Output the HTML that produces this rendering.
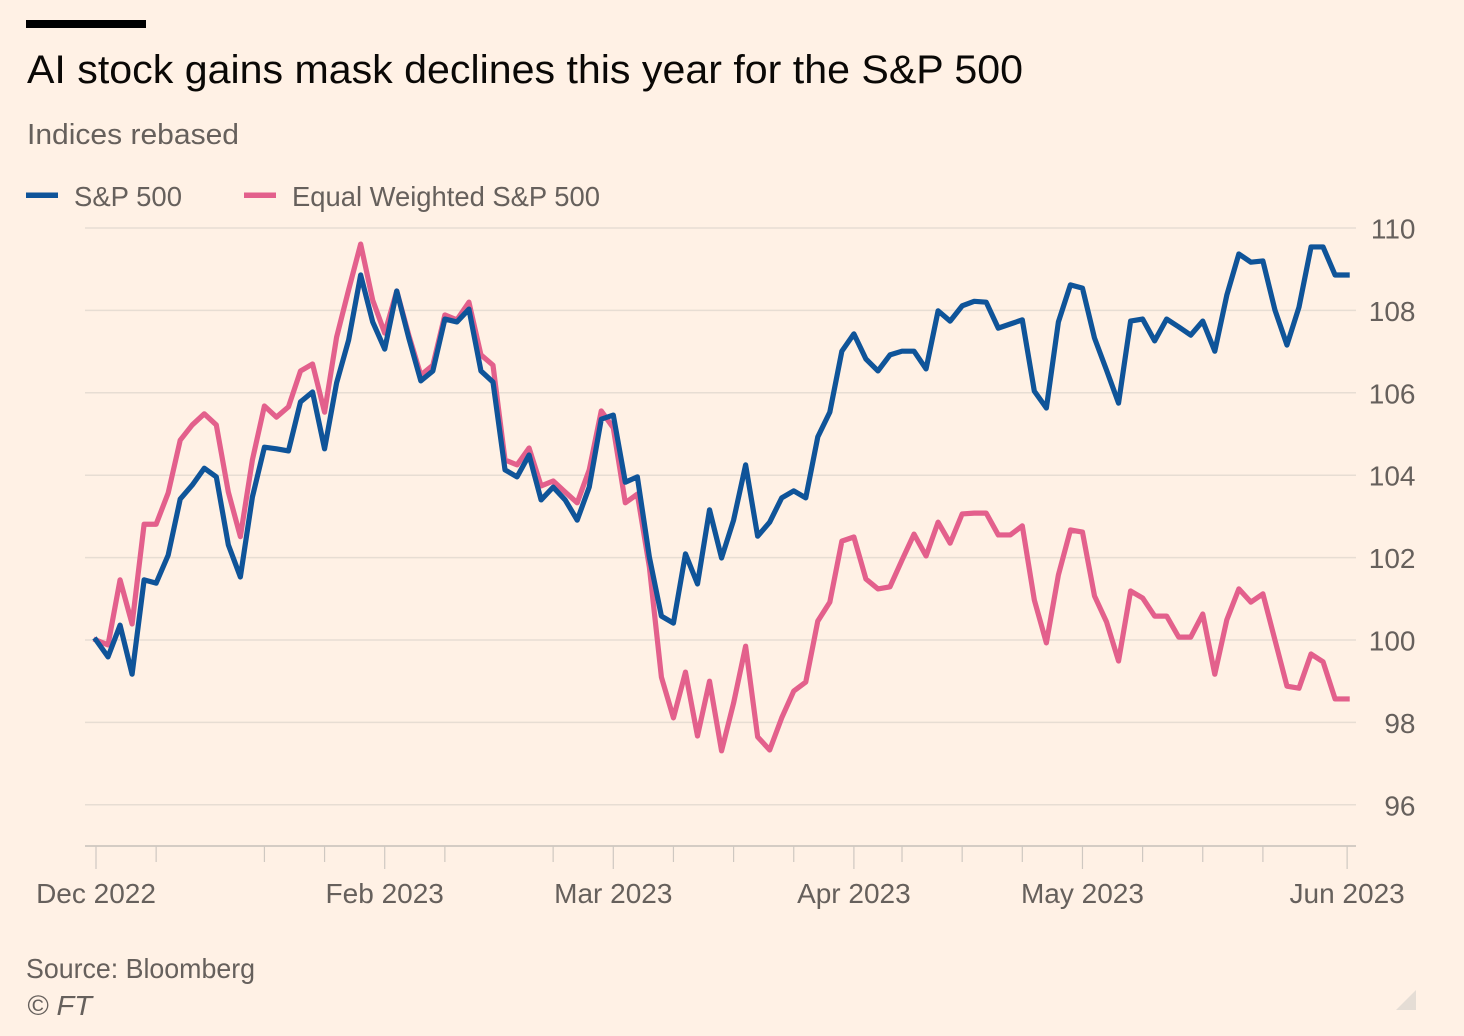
<!DOCTYPE html>
<html lang="en">
<head>
<meta charset="utf-8">
<title>AI stock gains mask declines this year for the S&amp;P 500</title>
<style>
html,body{margin:0;padding:0;background:#fff1e5;}
body{width:1464px;height:1036px;overflow:hidden;}
svg{display:block;font-family:"Liberation Sans",sans-serif;}
.grey{fill:#66605c;}
.tick-text{font-size:28px;fill:#66605c;}
</style>
</head>
<body>
<svg id="chart" width="1464" height="1036" viewBox="0 0 1464 1036" xmlns="http://www.w3.org/2000/svg">
  <rect x="0" y="0" width="1464" height="1036" fill="#fff1e5"/>
  <rect x="26" y="20" width="120" height="8" fill="#000"/>
  <text x="27" y="83" font-size="40" fill="#0a0806" textLength="996" lengthAdjust="spacingAndGlyphs">AI stock gains mask declines this year for the S&amp;P 500</text>
  <text class="grey" x="27" y="144" font-size="29" textLength="212" lengthAdjust="spacingAndGlyphs">Indices rebased</text>
  <rect x="26" y="192.500" width="32" height="5.500" fill="#0f5499"/>
  <text class="grey" x="74" y="206" font-size="28" textLength="108" lengthAdjust="spacingAndGlyphs">S&amp;P 500</text>
  <rect x="244" y="192.500" width="32" height="5.500" fill="#e3608c"/>
  <text class="grey" x="292" y="206" font-size="28" textLength="308" lengthAdjust="spacingAndGlyphs">Equal Weighted S&amp;P 500</text>
  <g id="grid"></g>
  <g id="xaxis"></g>
  <g id="yaxis"></g>
  <g id="series"></g>
  <text class="grey" x="26" y="978" font-size="28" textLength="229" lengthAdjust="spacingAndGlyphs">Source: Bloomberg</text>
  <text class="grey" x="27" y="1015" font-size="28" font-style="italic" textLength="65" lengthAdjust="spacingAndGlyphs">© FT</text>
  <polygon points="1396,1010 1416,1010 1416,990" fill="#e5ddd5"/>
</svg>
<script>
var yTickValues = [96, 98, 100, 102, 104, 106, 108, 110];
var monthLabels = ["Dec 2022", "Feb 2023", "Mar 2023", "Apr 2023", "May 2023", "Jun 2023"];
var monthDayIndex = [0, 24, 43, 63, 82, 104];
var minorDayIndex = [5, 14, 19, 29, 38, 48, 53, 58, 67, 72, 77, 87, 92, 97];
var sp500 = [100.00,99.59,100.36,99.17,101.46,101.38,102.06,103.42,103.76,104.17,103.96,102.31,101.53,103.47,104.68,104.64,104.59,105.78,106.02,104.64,106.24,107.28,108.86,107.72,107.06,108.47,107.33,106.29,106.53,107.79,107.72,108.03,106.53,106.26,104.13,103.96,104.49,103.40,103.71,103.40,102.91,103.71,105.36,105.46,103.83,103.96,102.01,100.58,100.41,102.09,101.36,103.16,101.99,102.91,104.25,102.52,102.86,103.45,103.62,103.45,104.93,105.53,107.01,107.43,106.82,106.53,106.92,107.01,107.01,106.58,107.99,107.74,108.11,108.22,108.20,107.57,107.67,107.77,106.04,105.63,107.72,108.62,108.54,107.33,106.55,105.75,107.74,107.79,107.26,107.79,107.60,107.40,107.74,107.01,108.37,109.37,109.17,109.20,108.01,107.16,108.08,109.54,109.54,108.86,108.86];
var equalWeighted = [100.00,99.88,101.46,100.39,102.81,102.81,103.57,104.85,105.22,105.49,105.22,103.59,102.51,104.37,105.68,105.41,105.66,106.53,106.70,105.53,107.35,108.50,109.61,108.25,107.45,108.47,107.40,106.43,106.67,107.89,107.77,108.20,106.92,106.67,104.37,104.25,104.66,103.74,103.86,103.59,103.33,104.13,105.56,105.15,103.33,103.54,101.77,99.10,98.11,99.22,97.67,99.00,97.31,98.47,99.85,97.65,97.33,98.11,98.76,98.98,100.46,100.92,102.40,102.50,101.48,101.24,101.29,101.94,102.57,102.04,102.86,102.35,103.06,103.08,103.08,102.55,102.55,102.77,100.97,99.93,101.58,102.67,102.62,101.07,100.44,99.49,101.19,101.02,100.58,100.58,100.07,100.07,100.63,99.17,100.49,101.24,100.92,101.12,100.00,98.88,98.83,99.66,99.47,98.57,98.57];

var NS = "http://www.w3.org/2000/svg";
var baselineY = 846;
var plotLeft = 85;
var plotRight = 1356;

function xScale(i) {
  return 96 + i * 12.03;
}
function yScale(v) {
  return 640 - (v - 100) * 41.2;
}
function make(tag, attrs, parent) {
  var el = document.createElementNS(NS, tag);
  for (var k in attrs) {
    el.setAttribute(k, attrs[k]);
  }
  parent.appendChild(el);
  return el;
}

var grid = document.getElementById("grid");
var yaxis = document.getElementById("yaxis");
var xaxis = document.getElementById("xaxis");
var series = document.getElementById("series");

yTickValues.forEach(function (v) {
  var line = make("line", {x1: plotLeft, x2: plotRight, y1: yScale(v), y2: yScale(v), stroke: "#e7ddd3", "stroke-width": 1.5}, grid);
  
  
  var label = make("text", {x: 1415.500, y: yScale(v) + 10.500, "text-anchor": "end", class: "tick-text"}, yaxis);
  
  
  label.textContent = String(v);
});

var axisLine = make("line", {x1: plotLeft, x2: plotRight, y1: baselineY, y2: baselineY, stroke: "#c6c0ba", "stroke-width": 1.5}, xaxis);



minorDayIndex.forEach(function (d) {
  var tick = make("line", {x1: xScale(d), x2: xScale(d), y1: baselineY, y2: baselineY + 16, stroke: "#cfc8c1", "stroke-width": 1.2}, xaxis);
  
  
});

monthDayIndex.forEach(function (d, n) {
  var tick = make("line", {x1: xScale(d), x2: xScale(d), y1: baselineY, y2: baselineY + 23, stroke: "#cfc8c1", "stroke-width": 1.2}, xaxis);
  
  
  var label = make("text", {x: xScale(d), y: 903, "text-anchor": "middle", class: "tick-text"}, xaxis);
  
  
  label.textContent = monthLabels[n];
});

function linePoints(values) {
  return values.map(function (v, i) {
    return xScale(i).toFixed(2) + "," + yScale(v).toFixed(2);
  }).join(" ");
}

var pinkLine = make("polyline", {points: linePoints(equalWeighted), fill: "none", stroke: "#e3608c", "stroke-width": 5.2, "stroke-linejoin": "round", "stroke-linecap": "square"}, series);



var blueLine = make("polyline", {points: linePoints(sp500), fill: "none", stroke: "#0f5499", "stroke-width": 5.2, "stroke-linejoin": "round", "stroke-linecap": "square"}, series);


</script>
</body>
</html>
